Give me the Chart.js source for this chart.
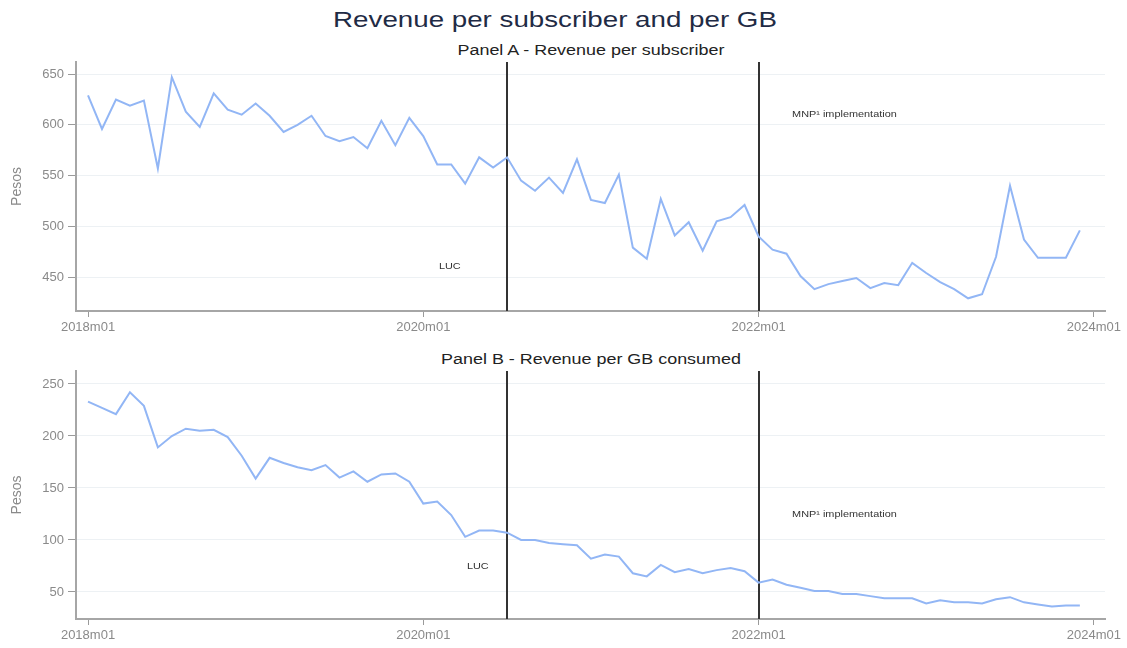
<!DOCTYPE html>
<html>
<head>
<meta charset="utf-8">
<script src="https://cdn.jsdelivr.net/npm/chart.js@4"></script>
<style>
  html, body { margin: 0; padding: 0; background: #fff; }
  body { width: 1127px; height: 648px; position: relative; overflow: hidden; font-family: Arial, "Liberation Sans", sans-serif; }
  .title { position: absolute; left: 0; width: 1110px; top: 7px; text-align: center; font-size: 22px; color: #1f2b45; transform: scaleX(1.26); transform-origin: 555px 0; }
  .ptitle { position: absolute; left: 391px; width: 400px; text-align: center; font-size: 14px; color: #222; transform: scaleX(1.28); }
  .panel { position: absolute; left: 0; width: 1127px; }
</style>
</head>
<body>
<div class="title">Revenue per subscriber and per GB</div>
<div class="ptitle" style="top:42px">Panel A - Revenue per subscriber</div>
<div class="ptitle" style="top:351px">Panel B - Revenue per GB consumed</div>
<div class="panel" style="top:40px;height:305px"><canvas id="chartA"></canvas></div>
<div class="panel" style="top:350px;height:298px"><canvas id="chartB"></canvas></div>
<script>
// ---------------------------------------------------------------------------
// Data: monthly, 2018m01 .. 2023m12 (index 0..71)
// ---------------------------------------------------------------------------
const revPerSub = [
  629, 596, 625, 619, 624, 557, 647, 613, 598, 631, 615, 610,
  621, 609, 593, 600, 609, 589, 584, 588, 577, 604, 580, 607,
  589, 561, 561, 542, 568, 558, 568, 545, 535, 548, 533, 566,
  526, 523, 551, 479, 468, 527, 491, 504, 476, 505, 509, 521,
  490, 477, 473, 451, 438, 443, 446, 449, 439, 444, 442, 464,
  454, 445, 438, 429, 433, 470, 540, 487, 469, 469, 469, 496
];
const revPerGB = [
  233, 227, 221, 242, 229, 189, 200, 207, 205, 206, 199, 181,
  159, 179, 174, 170, 167, 172, 160, 166, 156, 163, 164, 156,
  135, 137, 124, 103, 109, 109, 107, 100, 100, 97, 96, 95,
  82, 86, 84, 68, 65, 76, 69, 72, 68, 71, 73, 70,
  59, 62, 57, 54, 51, 51, 48, 48, 46, 44, 44, 44,
  39, 42, 40, 40, 39, 43, 45, 40, 38, 36, 37, 37
];

const xTickPos = [0, 24, 48, 72];
const xTickLabels = ["2018m01", "2020m01", "2022m01", "2024m01"];
const yTicksA = [450, 500, 550, 600, 650];
const yTicksB = [50, 100, 150, 200, 250];

const eventIdx = [30, 48]; // LUC 2020m07, MNP 2022m01
const notesA = [
  { text: "LUC", x: 25.9, y: 460, align: "center" },
  { text: "MNP\u00B9 implementation", x: 50.4, y: 610, align: "left" }
];
const notesB = [
  { text: "LUC", x: 27.9, y: 74, align: "center" },
  { text: "MNP\u00B9 implementation", x: 50.4, y: 124, align: "left" }
];

const FONT = 'Arial, "Liberation Sans", sans-serif';

// vertical event lines + small text notes (text a bit stretched, like the source image)
const eventPlugin = {
  id: "events",
  beforeDatasetsDraw(chart, args, opts) {
    const { ctx, chartArea, scales: { x, y } } = chart;
    ctx.save();
    ctx.strokeStyle = "#333";
    ctx.lineWidth = 2;
    for (const e of eventIdx) {
      const px = Math.round(x.getPixelForValue(e));
      ctx.beginPath();
      ctx.moveTo(px, chartArea.top);
      ctx.lineTo(px, chartArea.bottom);
      ctx.stroke();
    }
    ctx.font = "8.4px " + FONT;
    ctx.fillStyle = "#333";
    ctx.textBaseline = "middle";
    for (const n of opts.notes) {
      ctx.save();
      ctx.translate(x.getPixelForValue(n.x), y.getPixelForValue(n.y));
      ctx.scale(1.3, 1);
      ctx.textAlign = n.align;
      ctx.fillText(n.text, 0, 0);
      ctx.restore();
    }
    ctx.restore();
  }
};

function makeChart(id, values, yMin, yMax, yTicks, notes, padTop, padBottom) {
  return new Chart(document.getElementById(id), {
    type: "line",
    data: {
      datasets: [{
        data: values.map((v, i) => ({ x: i, y: v })),
        borderColor: "#92b6f5",
        borderWidth: 2,
        pointRadius: 0,
        tension: 0,
        fill: false
      }]
    },
    options: {
      responsive: true,
      maintainAspectRatio: false,
      animation: false,
      layout: { padding: { top: padTop, bottom: padBottom, left: 0, right: 22 } },
      plugins: { legend: { display: false }, tooltip: { enabled: false }, events: { notes } },
      scales: {
        x: {
          type: "linear",
          min: -0.86,
          max: 72.8,
          afterBuildTicks: s => { s.ticks = xTickPos.map(v => ({ value: v })); },
          afterFit: s => { s.height = 28; },
          ticks: {
            callback: v => xTickLabels[xTickPos.indexOf(v)],
            color: "#8a8a8a",
            font: { size: 13, family: FONT },
            padding: 3,
            maxRotation: 0
          },
          grid: { drawOnChartArea: false, drawTicks: true, tickLength: 6, tickColor: "#9a9a9a" },
          border: { display: true, color: "#a6a6a6", width: 2 }
        },
        y: {
          min: yMin,
          max: yMax,
          afterBuildTicks: s => { s.ticks = yTicks.map(v => ({ value: v })); },
          afterFit: s => { s.width = 76; },
          ticks: { color: "#8a8a8a", font: { size: 13, family: FONT }, padding: 4 },
          grid: { color: "#edf1f4", lineWidth: 1, drawTicks: true, tickLength: 8, tickColor: "#9a9a9a" },
          border: { display: true, color: "#a6a6a6", width: 2 },
          title: { display: true, text: "Pesos", color: "#8a8a8a", font: { size: 14, family: FONT }, padding: { top: 9, bottom: 0 } }
        }
      }
    },
    plugins: [eventPlugin]
  });
}

makeChart("chartA", revPerSub, 416.5, 662, yTicksA, notesA, 22, 6);
makeChart("chartB", revPerGB, 24, 262.5, yTicksB, notesB, 21, 1);
</script>
</body>
</html>
